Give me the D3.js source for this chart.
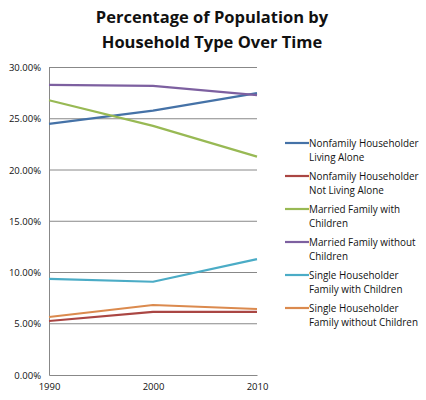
<!DOCTYPE html>
<html><head><meta charset="utf-8">
<script src="https://cdn.jsdelivr.net/npm/d3@7"></script>
<style>body{margin:0;background:#fff}svg{display:block}</style>
</head><body>
<svg id="c" width="426" height="400"></svg>
<script>
const years = ["1990", "2000", "2010"];
const seriesNames = [
  "Nonfamily Householder Living Alone",
  "Nonfamily Householder Not Living Alone",
  "Married Family with Children",
  "Married Family without Children",
  "Single Householder Family with Children",
  "Single Householder Family without Children"
];
const legendLines = [
  ["Nonfamily Householder", "Living Alone"],
  ["Nonfamily Householder", "Not Living Alone"],
  ["Married Family with", "Children"],
  ["Married Family without", "Children"],
  ["Single Householder", "Family with Children"],
  ["Single Householder", "Family without Children"]
];
const nonfamilyAlone = [24.5, 25.8, 27.5];
const nonfamilyNotAlone = [5.27, 6.15, 6.15];
const marriedWithChildren = [26.8, 24.3, 21.3];
const marriedWithoutChildren = [28.3, 28.2, 27.3];
const singleWithChildren = [9.37, 9.1, 11.3];
const singleWithoutChildren = [5.66, 6.83, 6.44];
const yTicks = [0, 5, 10, 15, 20, 25, 30];
const colors = ["#4572A7", "#AA4643", "#98B954", "#7D60A0", "#4BACC6", "#DB8A4E"];

const allSeries = [nonfamilyAlone, nonfamilyNotAlone, marriedWithChildren, marriedWithoutChildren, singleWithChildren, singleWithoutChildren];

const svg = d3.select("#c");
const pLeft = 49, pRight = 257, pTop = 67.5, pBottom = 375;
const x = d3.scalePoint().domain(years).range([pLeft, pRight]);
const y = d3.scaleLinear().domain([0, 30]).range([pBottom, pTop]);

const font = "'Open Sans', 'Liberation Sans', sans-serif";

// title
svg.append("text").attr("x", 212).attr("y", 23).attr("text-anchor", "middle")
  .attr("font-family", font).attr("font-weight", "bold").attr("font-size", 16.5).attr("fill", "#111")
  .text("Percentage of Population by");
svg.append("text").attr("x", 212).attr("y", 48).attr("text-anchor", "middle")
  .attr("font-family", font).attr("font-weight", "bold").attr("font-size", 16.5).attr("fill", "#111")
  .text("Household Type Over Time");

// gridlines
svg.append("g").selectAll("line").data(yTicks.filter(d => d > 0)).join("line")
  .attr("x1", pLeft).attr("x2", pRight)
  .attr("y1", d => y(d)).attr("y2", d => y(d))
  .attr("stroke", "#888").attr("stroke-width", 1);

// y axis
const yAxis = d3.axisLeft(y).tickValues(yTicks).tickSize(0).tickPadding(8)
  .tickFormat(d => d.toFixed(2) + "%");
const gy = svg.append("g").attr("transform", `translate(${pLeft},0)`).call(yAxis);
gy.select(".domain").attr("stroke", "#888");
gy.selectAll("text").attr("font-family", font).attr("font-size", 9.5).attr("fill", "#111");

// x axis
const xAxis = d3.axisBottom(x).tickSize(0).tickPadding(8);
const gx = svg.append("g").attr("transform", `translate(0,${pBottom})`).call(xAxis);
gx.select(".domain").attr("stroke", "#888");
gx.selectAll("text").attr("font-family", font).attr("font-size", 9.5).attr("fill", "#111");

// lines
const line = d3.line().x((d, i) => x(years[i])).y(d => y(d));
svg.append("g").selectAll("path").data(allSeries).join("path")
  .attr("d", d => line(d)).attr("fill", "none")
  .attr("stroke", (d, i) => colors[i]).attr("stroke-width", 2.2)
  .attr("stroke-linejoin", "round");

// legend
const lg = svg.append("g");
legendLines.forEach((ls, i) => {
  const yy = 143 + i * 33;
  lg.append("line").attr("x1", 285).attr("x2", 309).attr("y1", yy).attr("y2", yy)
    .attr("stroke", colors[i]).attr("stroke-width", 2.2);
  ls.forEach((t, j) => {
    lg.append("text").attr("x", 309).attr("y", yy + 3.5 + j * 14)
      .attr("font-family", font).attr("font-size", 9.9).attr("fill", "#111").text(t);
  });
});
</script>
</body></html>
